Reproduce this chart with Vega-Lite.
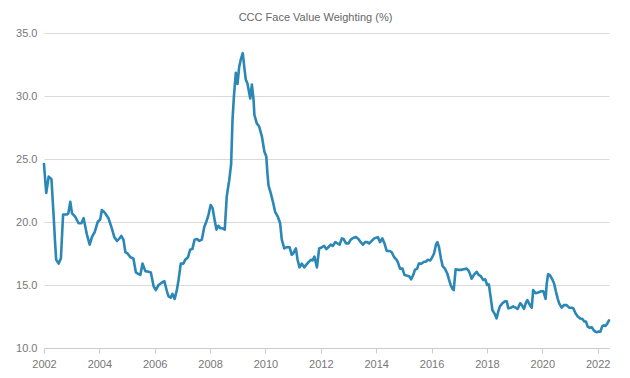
{
  "$schema": "https://vega.github.io/schema/vega-lite/v6.json",
  "width": 565,
  "height": 315,
  "autosize": "none",
  "padding": {"left": 44, "top": 33, "right": 21, "bottom": 30},
  "background": "white",
  "title": {"text": "CCC Face Value Weighting (%)", "anchor": "middle", "dx": -11, "offset": 4, "fontSize": 11, "fontWeight": "normal", "color": "#666", "font": "Liberation Sans"},
  "config": {"view": {"stroke": null}, "axis": {"labelFont": "Liberation Sans", "labelFontSize": 11, "labelColor": "#777", "titleFont": "Liberation Sans"}},
  "data": {"values": [
    {"year": 2002.0, "v": 24.6}, {"year": 2002.08, "v": 22.3}, {"year": 2002.17, "v": 23.6}, {"year": 2002.27, "v": 23.4},
    {"year": 2002.35, "v": 20.4}, {"year": 2002.4, "v": 18.4}, {"year": 2002.44, "v": 17.0}, {"year": 2002.53, "v": 16.7},
    {"year": 2002.61, "v": 17.1}, {"year": 2002.69, "v": 20.6}, {"year": 2002.83, "v": 20.6}, {"year": 2002.88, "v": 20.7},
    {"year": 2002.95, "v": 21.6}, {"year": 2003.01, "v": 20.7}, {"year": 2003.13, "v": 20.4}, {"year": 2003.25, "v": 19.9},
    {"year": 2003.35, "v": 19.9}, {"year": 2003.43, "v": 20.3}, {"year": 2003.55, "v": 19.0}, {"year": 2003.65, "v": 18.2},
    {"year": 2003.73, "v": 18.8}, {"year": 2003.83, "v": 19.2}, {"year": 2003.94, "v": 20.0}, {"year": 2004.03, "v": 20.2},
    {"year": 2004.09, "v": 20.95}, {"year": 2004.21, "v": 20.7}, {"year": 2004.33, "v": 20.3}, {"year": 2004.45, "v": 19.5},
    {"year": 2004.54, "v": 18.8}, {"year": 2004.64, "v": 18.5}, {"year": 2004.73, "v": 18.7}, {"year": 2004.79, "v": 18.9},
    {"year": 2004.87, "v": 18.6}, {"year": 2004.94, "v": 17.6}, {"year": 2005.02, "v": 17.5}, {"year": 2005.12, "v": 17.2},
    {"year": 2005.23, "v": 17.1}, {"year": 2005.32, "v": 16.0}, {"year": 2005.39, "v": 15.9}, {"year": 2005.48, "v": 15.8},
    {"year": 2005.56, "v": 16.7}, {"year": 2005.66, "v": 16.1}, {"year": 2005.78, "v": 16.05}, {"year": 2005.86, "v": 16.0},
    {"year": 2005.96, "v": 14.9}, {"year": 2006.04, "v": 14.6}, {"year": 2006.14, "v": 15.0}, {"year": 2006.26, "v": 15.2},
    {"year": 2006.35, "v": 15.3}, {"year": 2006.44, "v": 14.5}, {"year": 2006.5, "v": 14.1}, {"year": 2006.58, "v": 14.0},
    {"year": 2006.64, "v": 14.3}, {"year": 2006.72, "v": 13.9}, {"year": 2006.8, "v": 14.6}, {"year": 2006.86, "v": 15.4},
    {"year": 2006.94, "v": 16.7}, {"year": 2007.04, "v": 16.7}, {"year": 2007.1, "v": 17.0}, {"year": 2007.2, "v": 17.2},
    {"year": 2007.28, "v": 17.8}, {"year": 2007.36, "v": 17.85}, {"year": 2007.44, "v": 18.6}, {"year": 2007.53, "v": 18.65},
    {"year": 2007.61, "v": 18.5}, {"year": 2007.7, "v": 18.6}, {"year": 2007.79, "v": 19.6}, {"year": 2007.86, "v": 20.0},
    {"year": 2007.94, "v": 20.55}, {"year": 2008.02, "v": 21.35}, {"year": 2008.09, "v": 21.1}, {"year": 2008.16, "v": 20.2},
    {"year": 2008.23, "v": 19.4}, {"year": 2008.3, "v": 19.7}, {"year": 2008.37, "v": 19.5}, {"year": 2008.45, "v": 19.5},
    {"year": 2008.53, "v": 19.4}, {"year": 2008.6, "v": 22.0}, {"year": 2008.69, "v": 23.3}, {"year": 2008.76, "v": 24.6},
    {"year": 2008.81, "v": 28.1}, {"year": 2008.86, "v": 29.95}, {"year": 2008.93, "v": 31.85}, {"year": 2008.99, "v": 30.95},
    {"year": 2009.05, "v": 32.3}, {"year": 2009.11, "v": 32.9}, {"year": 2009.18, "v": 33.4}, {"year": 2009.24, "v": 32.2},
    {"year": 2009.29, "v": 31.3}, {"year": 2009.35, "v": 31.0}, {"year": 2009.45, "v": 29.8}, {"year": 2009.51, "v": 30.9},
    {"year": 2009.57, "v": 29.7}, {"year": 2009.6, "v": 28.5}, {"year": 2009.69, "v": 27.8}, {"year": 2009.77, "v": 27.6},
    {"year": 2009.87, "v": 26.8}, {"year": 2009.96, "v": 25.6}, {"year": 2010.03, "v": 25.2}, {"year": 2010.07, "v": 23.9},
    {"year": 2010.11, "v": 22.9}, {"year": 2010.19, "v": 22.3}, {"year": 2010.27, "v": 21.6}, {"year": 2010.35, "v": 20.8},
    {"year": 2010.45, "v": 20.4}, {"year": 2010.53, "v": 19.9}, {"year": 2010.59, "v": 18.6}, {"year": 2010.68, "v": 17.9},
    {"year": 2010.77, "v": 18.0}, {"year": 2010.87, "v": 18.0}, {"year": 2010.95, "v": 17.4}, {"year": 2011.0, "v": 17.5},
    {"year": 2011.1, "v": 17.9}, {"year": 2011.16, "v": 17.0}, {"year": 2011.23, "v": 16.4}, {"year": 2011.31, "v": 16.7},
    {"year": 2011.4, "v": 16.4}, {"year": 2011.47, "v": 16.6}, {"year": 2011.55, "v": 16.8}, {"year": 2011.64, "v": 17.0},
    {"year": 2011.7, "v": 16.95}, {"year": 2011.77, "v": 17.25}, {"year": 2011.86, "v": 16.4}, {"year": 2011.94, "v": 17.9},
    {"year": 2012.04, "v": 18.0}, {"year": 2012.12, "v": 18.1}, {"year": 2012.2, "v": 17.85}, {"year": 2012.27, "v": 18.0},
    {"year": 2012.36, "v": 18.2}, {"year": 2012.43, "v": 18.1}, {"year": 2012.52, "v": 18.4}, {"year": 2012.6, "v": 18.3},
    {"year": 2012.68, "v": 18.2}, {"year": 2012.76, "v": 18.7}, {"year": 2012.82, "v": 18.65}, {"year": 2012.91, "v": 18.3},
    {"year": 2013.0, "v": 18.3}, {"year": 2013.08, "v": 18.6}, {"year": 2013.18, "v": 18.75}, {"year": 2013.27, "v": 18.8},
    {"year": 2013.36, "v": 18.65}, {"year": 2013.44, "v": 18.4}, {"year": 2013.52, "v": 18.2}, {"year": 2013.6, "v": 18.4},
    {"year": 2013.68, "v": 18.4}, {"year": 2013.74, "v": 18.3}, {"year": 2013.84, "v": 18.5}, {"year": 2013.93, "v": 18.7},
    {"year": 2014.06, "v": 18.8}, {"year": 2014.14, "v": 18.4}, {"year": 2014.22, "v": 18.7}, {"year": 2014.3, "v": 18.3},
    {"year": 2014.38, "v": 17.7}, {"year": 2014.48, "v": 17.7}, {"year": 2014.56, "v": 17.6}, {"year": 2014.65, "v": 17.2},
    {"year": 2014.74, "v": 17.0}, {"year": 2014.8, "v": 16.7}, {"year": 2014.86, "v": 16.3}, {"year": 2014.95, "v": 16.3},
    {"year": 2015.02, "v": 15.8}, {"year": 2015.1, "v": 15.75}, {"year": 2015.19, "v": 15.7}, {"year": 2015.26, "v": 15.45},
    {"year": 2015.34, "v": 15.8}, {"year": 2015.4, "v": 16.2}, {"year": 2015.48, "v": 16.3}, {"year": 2015.54, "v": 16.7},
    {"year": 2015.64, "v": 16.7}, {"year": 2015.73, "v": 16.85}, {"year": 2015.8, "v": 16.85}, {"year": 2015.86, "v": 17.0},
    {"year": 2015.95, "v": 16.95}, {"year": 2016.0, "v": 17.1}, {"year": 2016.09, "v": 17.5}, {"year": 2016.16, "v": 18.2},
    {"year": 2016.21, "v": 18.4}, {"year": 2016.27, "v": 18.0}, {"year": 2016.34, "v": 17.1}, {"year": 2016.4, "v": 16.5},
    {"year": 2016.48, "v": 16.3}, {"year": 2016.57, "v": 15.9}, {"year": 2016.62, "v": 15.5}, {"year": 2016.69, "v": 15.0},
    {"year": 2016.75, "v": 14.7}, {"year": 2016.8, "v": 14.6}, {"year": 2016.87, "v": 16.25}, {"year": 2016.97, "v": 16.2},
    {"year": 2017.06, "v": 16.2}, {"year": 2017.16, "v": 16.25}, {"year": 2017.27, "v": 16.3}, {"year": 2017.35, "v": 16.1},
    {"year": 2017.45, "v": 15.5}, {"year": 2017.53, "v": 15.8}, {"year": 2017.63, "v": 16.05}, {"year": 2017.7, "v": 15.8},
    {"year": 2017.78, "v": 15.7}, {"year": 2017.87, "v": 15.4}, {"year": 2017.94, "v": 15.45}, {"year": 2018.01, "v": 15.0},
    {"year": 2018.07, "v": 15.05}, {"year": 2018.15, "v": 13.8}, {"year": 2018.2, "v": 13.0}, {"year": 2018.27, "v": 12.75},
    {"year": 2018.35, "v": 12.35}, {"year": 2018.41, "v": 12.9}, {"year": 2018.47, "v": 13.3}, {"year": 2018.56, "v": 13.55},
    {"year": 2018.65, "v": 13.7}, {"year": 2018.72, "v": 13.7}, {"year": 2018.77, "v": 13.15}, {"year": 2018.87, "v": 13.2},
    {"year": 2018.95, "v": 13.3}, {"year": 2019.03, "v": 13.2}, {"year": 2019.11, "v": 13.1}, {"year": 2019.2, "v": 13.55},
    {"year": 2019.25, "v": 13.45}, {"year": 2019.34, "v": 13.1}, {"year": 2019.4, "v": 13.55}, {"year": 2019.46, "v": 13.8},
    {"year": 2019.52, "v": 13.55}, {"year": 2019.58, "v": 13.3}, {"year": 2019.62, "v": 13.2}, {"year": 2019.67, "v": 14.6},
    {"year": 2019.76, "v": 14.35}, {"year": 2019.85, "v": 14.4}, {"year": 2019.96, "v": 14.5}, {"year": 2020.04, "v": 14.5},
    {"year": 2020.12, "v": 13.9}, {"year": 2020.16, "v": 15.1}, {"year": 2020.21, "v": 15.85}, {"year": 2020.27, "v": 15.8},
    {"year": 2020.36, "v": 15.45}, {"year": 2020.43, "v": 15.1}, {"year": 2020.49, "v": 14.5}, {"year": 2020.56, "v": 13.9},
    {"year": 2020.61, "v": 13.55}, {"year": 2020.7, "v": 13.2}, {"year": 2020.78, "v": 13.4}, {"year": 2020.88, "v": 13.4},
    {"year": 2020.97, "v": 13.2}, {"year": 2021.06, "v": 13.2}, {"year": 2021.12, "v": 13.15}, {"year": 2021.2, "v": 12.75},
    {"year": 2021.28, "v": 12.5}, {"year": 2021.37, "v": 12.35}, {"year": 2021.45, "v": 12.3}, {"year": 2021.52, "v": 12.1},
    {"year": 2021.58, "v": 12.1}, {"year": 2021.64, "v": 11.7}, {"year": 2021.72, "v": 11.6}, {"year": 2021.79, "v": 11.65},
    {"year": 2021.86, "v": 11.4}, {"year": 2021.92, "v": 11.3}, {"year": 2021.97, "v": 11.25}, {"year": 2022.03, "v": 11.3},
    {"year": 2022.1, "v": 11.3}, {"year": 2022.16, "v": 11.7}, {"year": 2022.22, "v": 11.8}, {"year": 2022.28, "v": 11.75},
    {"year": 2022.35, "v": 11.95}, {"year": 2022.41, "v": 12.2}
  ]},
  "mark": {"type": "line", "color": "#2b87b5", "strokeWidth": 2.6, "strokeJoin": "round", "strokeCap": "round"},
  "encoding": {
    "x": {"field": "year", "type": "quantitative",
      "scale": {"domain": [2002, 2022.41], "nice": false, "zero": false},
      "axis": {"title": null, "values": [2002, 2004, 2006, 2008, 2010, 2012, 2014, 2016, 2018, 2020, 2022], "format": "d", "grid": false, "domainColor": "#cccccc", "tickColor": "#cccccc", "tickSize": 5, "labelPadding": 5, "labelFlush": false}},
    "y": {"field": "v", "type": "quantitative",
      "scale": {"domain": [10, 35], "nice": false, "zero": false},
      "axis": {"title": null, "values": [10, 15, 20, 25, 30, 35], "format": ".1f", "grid": true, "gridColor": "#d9d9d9", "domain": false, "ticks": false, "labelPadding": 7}}
  }
}
